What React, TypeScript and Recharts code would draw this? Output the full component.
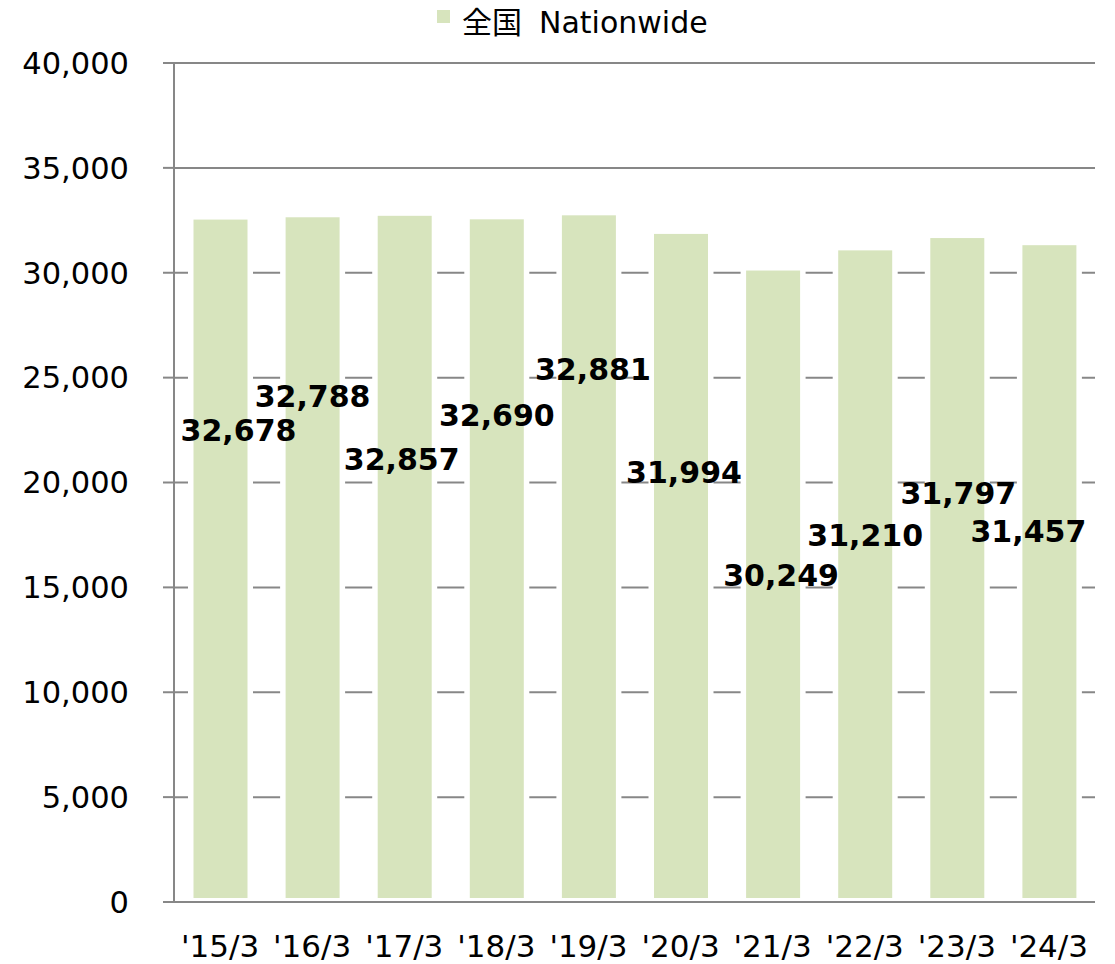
import { Bar, BarChart, CartesianGrid, LabelList, XAxis, YAxis } from "recharts";

const years = ["'15/3", "'16/3", "'17/3", "'18/3", "'19/3", "'20/3", "'21/3", "'22/3", "'23/3", "'24/3"];
const nationwide = [32678, 32788, 32857, 32690, 32881, 31994, 30249, 31210, 31797, 31457];
const yTicks = [0, 5000, 10000, 15000, 20000, 25000, 30000, 35000, 40000];
// where each value label sits (in axis units) and a small sideways nudge (px), as placed in the original
const labelLevel = [22500, 24100, 21100, 23200, 25400, 20500, 15600, 17500, 19500, 17700];
const labelNudge = [18, 0, -3, 0, 4, 3, 8, 0, 1, -21];
const edgeTicks = [0, 1, 2, 3, 4, 5, 6, 7, 8, 9, 10];

const FONT = "'DejaVu Sans', 'Noto Sans CJK JP', sans-serif";
const BAR_FILL = "#d7e4bd";
const LINE = "#878787";

const data = years.map((year, i) => ({ year, value: nationwide[i], idx: i }));

function BarShape(props: any) {
  const { x, y, width, height } = props;
  return (
    <g>
      <rect x={x} y={y} width={width} height={Math.max(0, height - 1)} fill="#fff" />
      <rect x={x + 5.5} y={y + 3} width={width - 11} height={Math.max(0, height - 7)} fill={BAR_FILL} />
    </g>
  );
}

function ValueLabel(props: any) {
  const { x, y, width, height, index, value } = props;
  const level = labelLevel[index];
  const cy = y + height * (1 - level / value);
  const cx = x + width / 2 + labelNudge[index];
  return (
    <text x={cx} y={cy} dy="0.36em" textAnchor="middle" fontFamily={FONT} fontSize={30} fontWeight="bold" fill="#000">
      {Number(value).toLocaleString("en-US")}
    </text>
  );
}

export default function App() {
  return (
    <div style={{ position: "absolute", left: 0, top: 0, width: 1115, height: 964, background: "#fff" }}>
      <svg width={1115} height={50} style={{ position: "absolute", left: 0, top: 0 }}>
        <rect x={437} y={10} width={13} height={13} fill={BAR_FILL} />
        <text x={462} y={33} fontFamily={FONT} fontSize={30} fill="#000">
          全国
        </text>
        <text x={539} y={33} fontFamily={FONT} fontSize={30} fill="#000">
          Nationwide
        </text>
      </svg>
      <BarChart
        width={1115}
        height={964}
        data={data}
        margin={{ top: 63, right: 20, left: 0, bottom: 0 }}
        style={{ fontFamily: FONT }}
      >
        <CartesianGrid vertical={false} stroke={LINE} strokeWidth={2} />
        <XAxis
          xAxisId="edge"
          type="number"
          domain={[0, 10]}
          ticks={edgeTicks}
          allowDataOverflow
          height={0}
          tick={false}
          tickSize={10}
          stroke={LINE}
          strokeWidth={2}
        />
        <XAxis
          dataKey="year"
          height={62}
          axisLine={false}
          tickLine={false}
          tickSize={10}
          tickMargin={23}
          interval={0}
          tick={{ fill: "#000", fontSize: 31, fontFamily: FONT }}
        />
        <YAxis
          domain={[0, 40000]}
          ticks={yTicks}
          width={174}
          tickSize={11}
          tickMargin={34}
          stroke={LINE}
          strokeWidth={2}
          tick={{ fill: "#000", fontSize: 30.5, fontFamily: FONT }}
          tickFormatter={(v: number) => v.toLocaleString("en-US")}
        />
        <YAxis
          yAxisId="r"
          orientation="right"
          domain={[0, 40000]}
          width={0}
          tick={false}
          tickLine={false}
          stroke={LINE}
          strokeWidth={2}
        />
        <Bar dataKey="value" barSize={65} shape={BarShape} isAnimationActive={false}>
          <LabelList dataKey="value" content={ValueLabel} />
        </Bar>
      </BarChart>
    </div>
  );
}
